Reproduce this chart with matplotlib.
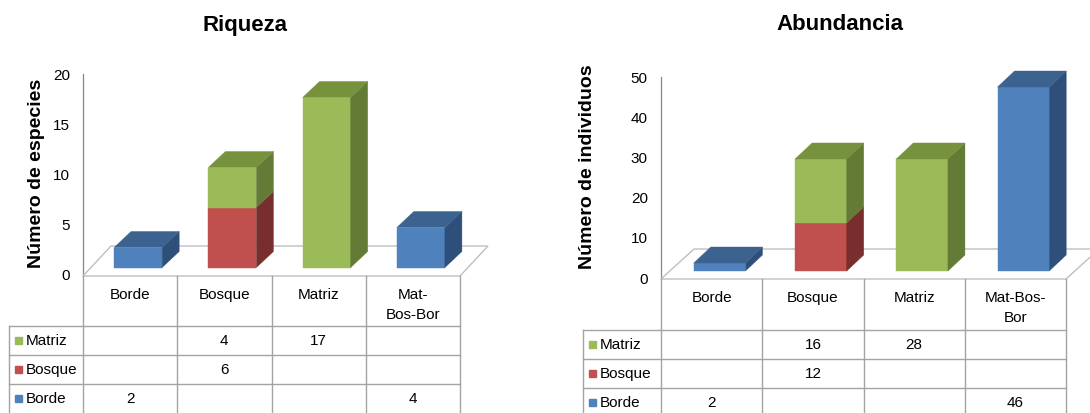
import matplotlib.pyplot as plt
from matplotlib.patches import Polygon, Rectangle

plt.rcParams['font.family'] = ['Liberation Sans', 'DejaVu Sans']

W, H = 1090, 414

# stacking order, bottom to top
series = ['Borde', 'Bosque', 'Matriz']

riq_cats = ['Borde', 'Bosque', 'Matriz', 'Mat-\nBos-Bor']
riq_borde = [2, 0, 0, 4]
riq_bosque = [0, 6, 0, 0]
riq_matriz = [0, 4, 17, 0]
riq_ticks = [0, 5, 10, 15, 20]

abu_cats = ['Borde', 'Bosque', 'Matriz', 'Mat-Bos-\nBor']
abu_borde = [2, 0, 0, 46]
abu_bosque = [0, 12, 0, 0]
abu_matriz = [0, 16, 28, 0]
abu_ticks = [0, 10, 20, 30, 40, 50]

# front, top, side shades
colors = {
    'Borde': ('#4F81BD', '#3C6290', '#2F4F7B'),
    'Bosque': ('#C0504D', '#9A3E3B', '#772E2C'),
    'Matriz': ('#9BBB59', '#76923C', '#637B35'),
}
grid_col = '#A3A3A3'
fz = 11

fig = plt.figure(figsize=(W / 100, H / 100), dpi=100)

# full-figure layer in pixel units for the pseudo-3D faces and the data table
canvas = fig.add_axes([0, 0, 1, 1], zorder=5)
canvas.set_xlim(0, W)
canvas.set_ylim(H, 0)
canvas.axis('off')


def px_rect(x0, y0, x1, y1):
    return [x0 / W, 1 - y1 / H, (x1 - x0) / W, (y1 - y0) / H]


def to_px(ax, x, y):
    X, Y = ax.transData.transform((x, y))
    return X, H - Y


def draw_chart(box, ymin, cats, values, ticks, title, title_xy, ylabel, ylabel_xy,
               floor_depth, legend_left, header_h, row_h):
    n = len(cats)
    ax = fig.add_axes(px_rect(*box))
    ax.set_xlim(-0.5, n - 0.5)
    ax.set_ylim(ymin, ticks[-1])
    ax.set_xticks([])
    ax.set_yticks(ticks)
    ax.tick_params(axis='y', length=0, pad=9.5, labelsize=fz)
    for s in ['top', 'right', 'bottom']:
        ax.spines[s].set_visible(False)
    ax.spines['left'].set_color('#868686')
    ax.spines['left'].set_linewidth(0.9)
    ax.patch.set_alpha(0)

    # floor
    flx, fy = to_px(ax, -0.5, ymin)
    frx, _ = to_px(ax, n - 0.5, ymin)
    fdx, fdy = floor_depth
    canvas.add_patch(Polygon([(flx, fy), (frx, fy), (frx + fdx, fy + fdy), (flx + fdx, fy + fdy)],
                             closed=True, fc='white', ec='#BFBFBF', lw=1.0))

    # stacked boxes
    bw = 0.51
    sx, sy = 8, -6
    dx, dy = 17, -16
    totals = [sum(values[s][i] for s in series) for i in range(n)]
    bottoms = [0] * n
    for name in series:
        front, top, side = colors[name]
        for i, v in enumerate(values[name]):
            if v <= 0:
                continue
            b = bottoms[i]
            xl, yb = to_px(ax, i - bw / 2, b)
            xr, yt = to_px(ax, i + bw / 2, b + v)
            xl, xr, yb, yt = xl + sx, xr + sx, yb + sy, yt + sy
            canvas.add_patch(Polygon([(xl, yb), (xr, yb), (xr, yt), (xl, yt)],
                                     fc=front, ec=front, lw=0.3))
            canvas.add_patch(Polygon([(xr, yb), (xr + dx, yb + dy), (xr + dx, yt + dy), (xr, yt)],
                                     fc=side, ec=side, lw=0.3))
            if b + v == totals[i]:
                canvas.add_patch(Polygon([(xl, yt), (xr, yt), (xr + dx, yt + dy), (xl + dx, yt + dy)],
                                         fc=top, ec=top, lw=0.3))
            bottoms[i] += v

    # data table
    edges = [to_px(ax, i - 0.5, ymin)[0] for i in range(n + 1)]
    head_bot = fy + header_h
    for x in edges:
        canvas.plot([x, x], [fy, H + 2], color=grid_col, lw=1.0)
    canvas.plot([legend_left, legend_left], [head_bot, H + 2], color=grid_col, lw=1.0)
    for k in range(3):
        y = head_bot + k * row_h
        canvas.plot([legend_left, edges[-1]], [y, y], color=grid_col, lw=1.0)
    for i, c in enumerate(cats):
        canvas.text((edges[i] + edges[i + 1]) / 2, fy + 11, c, ha='center', va='top',
                    fontsize=fz, linespacing=1.55)
    for r, name in enumerate(reversed(series)):
        yc = head_bot + (r + 0.5) * row_h
        canvas.add_patch(Rectangle((legend_left + 6, yc - 3.5), 7, 7, color=colors[name][0]))
        canvas.text(legend_left + 17, yc, name, va='center', fontsize=fz)
        for i, v in enumerate(values[name]):
            if v:
                canvas.text((edges[i] + edges[i + 1]) / 2, yc, str(v), ha='center',
                            va='center', fontsize=fz)

    canvas.text(title_xy[0], title_xy[1], title, ha='center', va='center',
                fontsize=16, fontweight='bold')
    canvas.text(ylabel_xy[0], ylabel_xy[1], ylabel, ha='center', va='center',
                rotation=90, fontsize=14, fontweight='bold')


draw_chart((83, 74.5, 460, 277), -0.25, riq_cats,
           {'Borde': riq_borde, 'Bosque': riq_bosque, 'Matriz': riq_matriz},
           riq_ticks, 'Riqueza', (245, 25), 'Número de especies', (37, 173),
           (28, -30), 9, 50, 29)

draw_chart((661, 78, 1066, 280), -0.5, abu_cats,
           {'Borde': abu_borde, 'Bosque': abu_bosque, 'Matriz': abu_matriz},
           abu_ticks, 'Abundancia', (840, 25), 'Número de individuos', (587, 167),
           (33, -30), 583, 51, 29)

fig.savefig('out.png', dpi=100)
plt.close(fig)
